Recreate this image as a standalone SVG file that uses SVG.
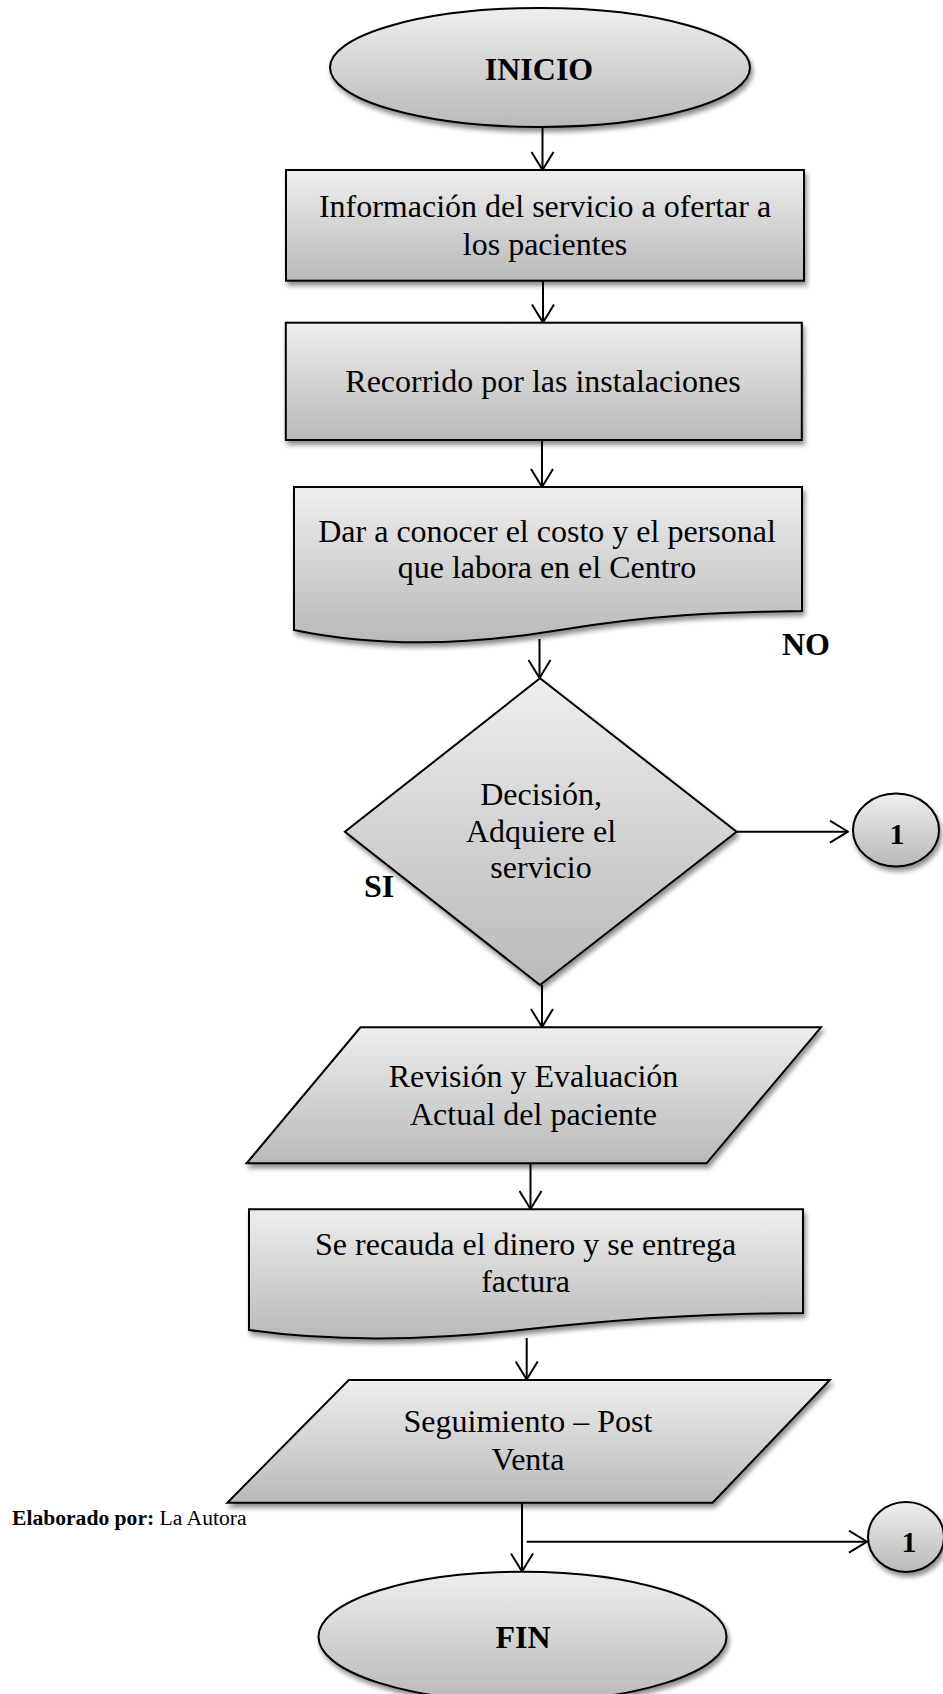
<svg xmlns="http://www.w3.org/2000/svg" width="943" height="1694" viewBox="0 0 943 1694">
<style>
.shape{fill:url(#grad);stroke:#000;stroke-width:2;filter:url(#shadow);}
.t{font-family:"Liberation Serif","Times New Roman",serif;font-size:32px;fill:#000;text-anchor:middle;}
.b{font-weight:bold;}
.conn{fill:none;stroke:#000;stroke-width:2;marker-end:url(#arrow);}
</style>
<defs>
<linearGradient id="grad" x1="0" y1="0" x2="0" y2="1">
<stop offset="0" stop-color="#eeeeee"/>
<stop offset="1" stop-color="#b9b9b9"/>
</linearGradient>
<filter id="shadow" x="-10%" y="-10%" width="125%" height="130%">
<feGaussianBlur in="SourceAlpha" stdDeviation="2.5"/>
<feOffset dx="2" dy="4" result="o"/>
<feComponentTransfer><feFuncA type="linear" slope="0.45"/></feComponentTransfer>
<feMerge><feMergeNode/><feMergeNode in="SourceGraphic"/></feMerge>
</filter>
<marker id="arrow" viewBox="0 0 20 24" refX="19" refY="12" markerWidth="20" markerHeight="24" markerUnits="userSpaceOnUse" orient="auto">
<path d="M1,1 L19,12 L1,23" fill="none" stroke="#000" stroke-width="2"/>
</marker>
</defs>
<rect width="943" height="1694" fill="#ffffff"/>

<g id="connectors">
<path class="conn" d="M542.5,127 V170"/>
<path class="conn" d="M543,281 V322.5"/>
<path class="conn" d="M542,440 V487"/>
<path class="conn" d="M539.5,639 V678"/>
<path class="conn" d="M737,831.7 H848"/>
<path class="conn" d="M542,985 V1027"/>
<path class="conn" d="M530.5,1163 V1209"/>
<path class="conn" d="M526.7,1338 V1379.5"/>
<path class="conn" d="M522,1502.7 V1571.5"/>
<path class="conn" d="M526.7,1541.7 H867"/>
</g>

<g id="inicio">
<ellipse class="shape" cx="540" cy="67.5" rx="210" ry="59.5"/>
<text class="t b" x="539" y="80">INICIO</text>
</g>

<g id="info">
<rect class="shape" x="286" y="170" width="518" height="110.7"/>
<text class="t" x="545" y="217">Información del servicio a ofertar a</text>
<text class="t" x="545" y="255">los pacientes</text>
</g>

<g id="recorrido">
<rect class="shape" x="285.8" y="322.7" width="516" height="117.3"/>
<text class="t" x="543" y="391.7">Recorrido por las instalaciones</text>
</g>

<g id="costo">
<path class="shape" d="M294,487 H802 V611 C720,612 650,615 560,630 C470,645 380,648 294,630 Z"/>
<text class="t" x="547" y="541.7">Dar a conocer el costo y el personal</text>
<text class="t" x="547" y="578">que labora en el Centro</text>
</g>

<g id="label-no">
<text class="t b" x="806" y="655">NO</text>
</g>

<g id="decision">
<polygon class="shape" points="540,678.3 736.6,831.7 540,985 344.9,831.7"/>
<text class="t" x="541" y="805">Decisión,</text>
<text class="t" x="541" y="841.7">Adquiere el</text>
<text class="t" x="541" y="878.3">servicio</text>
</g>

<g id="label-si">
<text class="t b" x="379" y="896.7">SI</text>
</g>

<g id="connector1-a">
<ellipse class="shape" cx="896" cy="830" rx="43" ry="36.5"/>
<text class="t b" x="897" y="843.5" style="font-size:30px">1</text>
</g>

<g id="revision">
<polygon class="shape" points="360.5,1027.3 821,1027.3 706.5,1163.3 246.6,1163.3"/>
<text class="t" x="533.5" y="1086.7">Revisión y Evaluación</text>
<text class="t" x="533.5" y="1125">Actual del paciente</text>
</g>

<g id="recauda">
<path class="shape" d="M249,1209.3 H803 V1313 C710,1313 610,1320 520,1330 C430,1340 335,1342 249,1330 Z"/>
<text class="t" x="525.6" y="1255">Se recauda el dinero y se entrega</text>
<text class="t" x="525.6" y="1291.7">factura</text>
</g>

<g id="seguimiento">
<polygon class="shape" points="348.8,1380 829.8,1380 712.6,1502.7 227.3,1502.7"/>
<text class="t" x="528" y="1431.7">Seguimiento – Post</text>
<text class="t" x="528" y="1470">Venta</text>
</g>

<g id="connector1-b">
<ellipse class="shape" cx="906" cy="1537" rx="38" ry="35"/>
<text class="t b" x="909" y="1551.5" style="font-size:30px">1</text>
</g>

<g id="fin">
<ellipse class="shape" cx="522.5" cy="1636.7" rx="204" ry="65"/>
<text class="t b" x="523" y="1648.3">FIN</text>
</g>

<g id="credit">
<text x="12" y="1525" style="font-family:'Liberation Serif','Times New Roman',serif;font-size:21.6px;fill:#000"><tspan font-weight="bold">Elaborado por:</tspan> La Autora</text>
</g>
</svg>
